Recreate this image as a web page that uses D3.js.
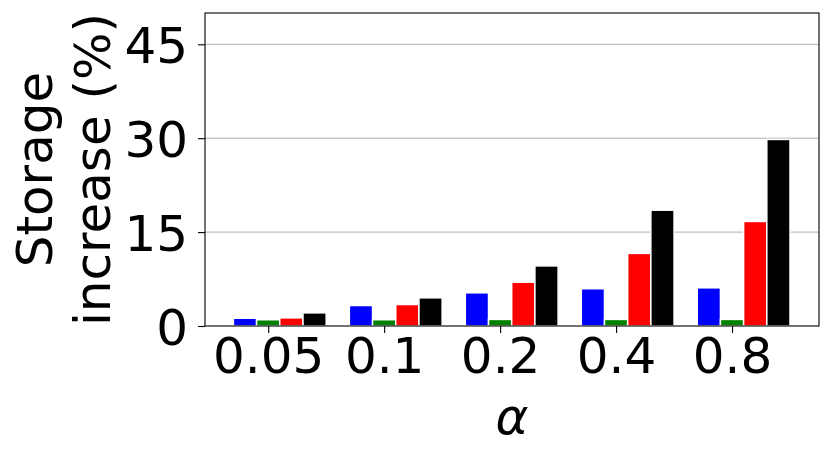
<!DOCTYPE html>
<meta charset="utf-8">
<style>
body { margin: 0; background: #fff; font-family: "DejaVu Sans", sans-serif; }
.grid line { stroke: #b0b0b0; stroke-width: 1; }
.axis path, .axis line { stroke: #000; stroke-width: 1.1; }
.axis text { font-size: 50px; fill: #000; font-family: "DejaVu Sans", sans-serif; }
</style>
<script src="https://d3js.org/d3.v7.min.js"></script>
<body>
<div id="chart"></div>
<script>
// data
var alphas = ["0.05", "0.1", "0.2", "0.4", "0.8"];
var blueVals  = [1.24, 3.27, 5.3, 5.95, 6.1];
var greenVals = [1.0, 1.0, 1.05, 1.05, 1.05];
var redVals   = [1.3, 3.43, 7.0, 11.6, 16.7];
var blackVals = [2.1, 4.5, 9.6, 18.5, 29.8];
var yTicks = [0, 15, 30, 45];

var seriesList = [
  {vals: blueVals,  color: "#0000ff", off: -1},
  {vals: greenVals, color: "#008000", off: 0},
  {vals: redVals,   color: "#ff0000", off: 1},
  {vals: blackVals, color: "#000000", off: 2}
];
var barW = 0.2;

var W = 830, H = 459;
var margin = {top: 13, right: 11, bottom: 133, left: 205},
    width = W - margin.left - margin.right,
    height = H - margin.top - margin.bottom;

var svg = d3.select("#chart").append("svg")
    .attr("width", W).attr("height", H)
  .append("g")
    .attr("transform", "translate(" + margin.left + "," + margin.top + ")");

var x = d3.scaleLinear().domain([-0.545, 4.75]).range([0, width]);
var y = d3.scaleLinear().domain([0, 50]).range([height, 0]);

// gridlines
svg.append("g").attr("class", "grid")
  .selectAll("line").data(yTicks.slice(1)).enter().append("line")
    .attr("x1", 0).attr("x2", width)
    .attr("y1", function(d) { return y(d); })
    .attr("y2", function(d) { return y(d); });

// bars
seriesList.forEach(function(s) {
  svg.append("g").selectAll("rect").data(s.vals).enter().append("rect")
    .attr("x", function(d, i) { return x(i + s.off * barW - barW / 2); })
    .attr("width", x(barW) - x(0))
    .attr("y", function(d) { return y(d); })
    .attr("height", function(d) { return y(0) - y(d); })
    .attr("fill", s.color)
    .attr("stroke", "#fff")
    .attr("stroke-width", 1.5);
});

// axes
svg.append("g").attr("class", "axis")
  .attr("transform", "translate(0," + height + ")")
  .call(d3.axisBottom(x).tickValues(d3.range(alphas.length))
    .tickFormat(function(d) { return alphas[d]; })
    .tickSize(7).tickPadding(4).tickSizeOuter(0))
  .call(function(g) { g.select(".domain").remove(); });

svg.append("g").attr("class", "axis")
  .call(d3.axisLeft(y).tickValues(yTicks).tickSize(7).tickPadding(10).tickSizeOuter(0))
  .call(function(g) { g.select(".domain").remove(); })
  .selectAll("text").attr("dy", "0.36em");

// frame
svg.append("rect")
  .attr("width", width).attr("height", height)
  .attr("fill", "none").attr("stroke", "#000").attr("stroke-width", 1.1);

// x label
svg.append("text")
  .attr("x", width / 2).attr("y", 421)
  .attr("text-anchor", "middle")
  .style("font-size", "50px").style("font-style", "italic")
  .text("α");

// y label, two lines
var yl = svg.append("text")
  .attr("transform", "translate(" + (-margin.left + 52) + "," + (height / 2) + ") rotate(-90)")
  .attr("text-anchor", "middle")
  .style("font-size", "50px");
yl.append("tspan").attr("x", 0).attr("y", 0).text("Storage");
yl.append("tspan").attr("x", 0).attr("y", 58).text("increase (%)");
</script>
</body>
